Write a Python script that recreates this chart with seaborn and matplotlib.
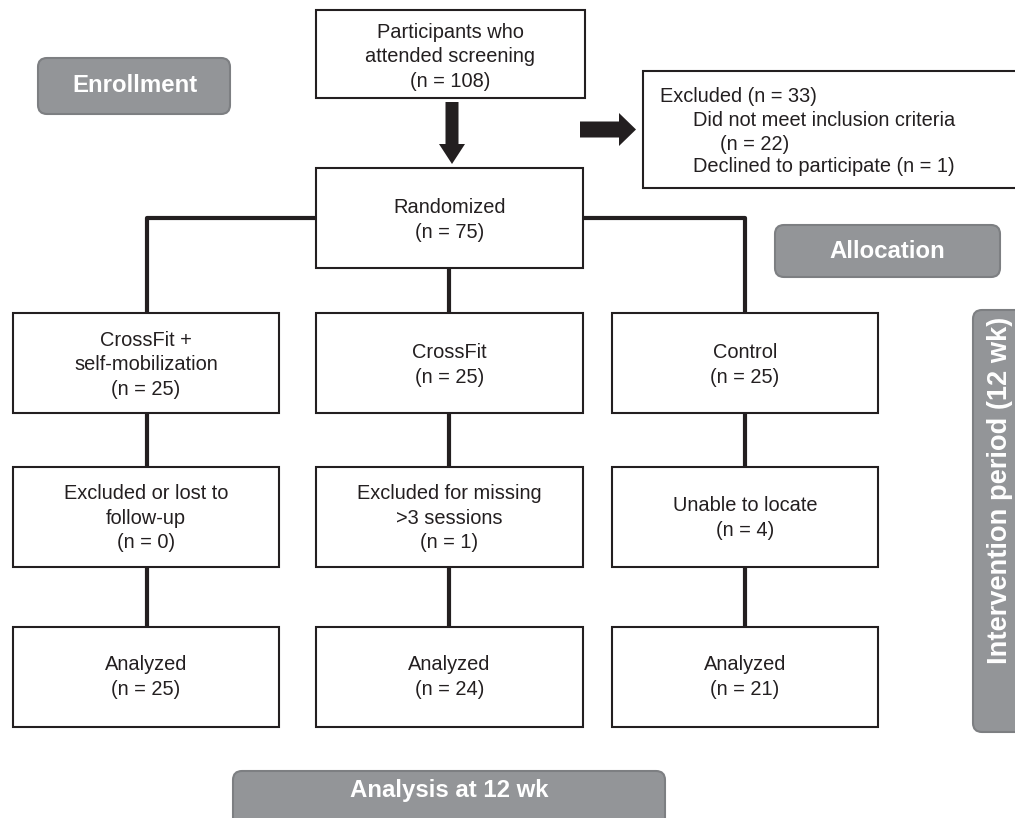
import matplotlib
matplotlib.use("Agg")
import matplotlib.pyplot as plt
from matplotlib.patches import Rectangle, FancyBboxPatch, FancyArrow
import seaborn as sns

# ---------------- data ----------------
screened_n = 108
excluded_n = 33
not_meet_n = 22
declined_n = 1
randomized_n = 75

arm_labels = ["CrossFit +\nself-mobilization", "CrossFit", "Control"]
allocated_n = [25, 25, 25]
lost_labels = ["Excluded or lost to\nfollow-up", "Excluded for missing\n>3 sessions", "Unable to locate"]
lost_n = [0, 1, 4]
analyzed_labels = ["Analyzed", "Analyzed", "Analyzed"]
analyzed_n = [25, 24, 21]

stage_labels = ["Enrollment", "Allocation", "Intervention period (12 wk)", "Analysis at 12 wk"]

# ---------------- style ----------------
sns.set_theme(style="white")
plt.rcParams["font.family"] = ["Liberation Sans", "DejaVu Sans"]

INK = "#231f20"
GRAY = "#939598"
GRAY_EDGE = "#7d7f82"
FS = 14.4
LS = 1.36
BOX_LW = 1.5
LINK_LW = 3.0

fig = plt.figure(figsize=(10.15, 8.18), dpi=100)
ax = fig.add_axes([0, 0, 1, 1])
ax.set_xlim(0, 1015)
ax.set_ylim(818, 0)
ax.set_axis_off()


def box(x0, x1, y0, y1, text, ty=None):
    ax.add_patch(Rectangle((x0, y0), x1 - x0, y1 - y0, facecolor="white",
                           edgecolor=INK, lw=BOX_LW, zorder=3))
    if text is not None:
        ax.text((x0 + x1) / 2, (y0 + y1) / 2 if ty is None else ty, text,
                ha="center", va="center", fontsize=FS, color=INK,
                linespacing=LS, zorder=4)


def stage(x0, x1, y0, y1, text, tx, ty, fs, rot=0):
    ax.add_patch(FancyBboxPatch((x0, y0), x1 - x0, y1 - y0,
                                boxstyle="round,pad=0,rounding_size=9",
                                facecolor=GRAY, edgecolor=GRAY_EDGE, lw=1.5,
                                zorder=2))
    ax.text(tx, ty, text, ha="center", va="center", fontsize=fs,
            color="white", fontweight="bold", rotation=rot, zorder=4)


def link(xs, ys):
    ax.plot(xs, ys, color=INK, lw=LINK_LW, solid_capstyle="butt", zorder=1)


# top boxes
box(316, 585, 10, 98, f"Participants who\nattended screening\n(n = {screened_n})", ty=57)
box(316, 583, 168, 268, f"Randomized\n(n = {randomized_n})", ty=220)

# excluded box
ax.add_patch(Rectangle((643, 71), 380, 117, facecolor="white", edgecolor=INK,
                       lw=BOX_LW, zorder=3))
ax.text(660, 97, f"Excluded (n = {excluded_n})", ha="left", va="center",
        fontsize=FS, color=INK, zorder=4)
ax.text(693, 120, "Did not meet inclusion criteria", ha="left", va="center",
        fontsize=FS, color=INK, zorder=4)
ax.text(720, 144, f"(n = {not_meet_n})", ha="left", va="center",
        fontsize=FS, color=INK, zorder=4)
ax.text(693, 167, f"Declined to participate (n = {declined_n})", ha="left",
        va="center", fontsize=FS, color=INK, zorder=4)

# arrows
ax.add_patch(FancyArrow(452, 102, 0, 62, width=13, head_width=26,
                        head_length=20, length_includes_head=True,
                        color=INK, lw=0, zorder=3))
ax.add_patch(FancyArrow(580, 129.5, 56, 0, width=16, head_width=33,
                        head_length=17, length_includes_head=True,
                        color=INK, lw=0, zorder=3))

# column layout
col_x = [(13, 279), (316, 583), (612, 878)]
col_c = [147, 449, 745]
row_y = [(313, 413), (467, 567), (627, 727)]

# branch links
link([col_c[0], col_c[0], 316], [313, 218, 218])
link([583, col_c[2], col_c[2]], [218, 218, 313])
link([col_c[1], col_c[1]], [268, 313])

for i in range(3):
    (x0, x1) = col_x[i]
    c = col_c[i]
    box(x0, x1, *row_y[0], f"{arm_labels[i]}\n(n = {allocated_n[i]})", ty=365)
    box(x0, x1, *row_y[1], f"{lost_labels[i]}\n(n = {lost_n[i]})", ty=518)
    box(x0, x1, *row_y[2], f"{analyzed_labels[i]}\n(n = {analyzed_n[i]})", ty=677)
    link([c, c], [row_y[0][1], row_y[1][0]])
    link([c, c], [row_y[1][1], row_y[2][0]])

# stage labels
stage(38, 230, 58, 114, stage_labels[0], 135, 86, 17.3)
stage(775, 1000, 225, 277, stage_labels[1], 887, 251, 17.3)
stage(973, 1030, 310, 732, stage_labels[2], 1000, 490, 19.6, rot=90)
stage(233, 665, 771, 840, stage_labels[3], 449, 791, 17.3)

fig.savefig("out.png", dpi=100)
